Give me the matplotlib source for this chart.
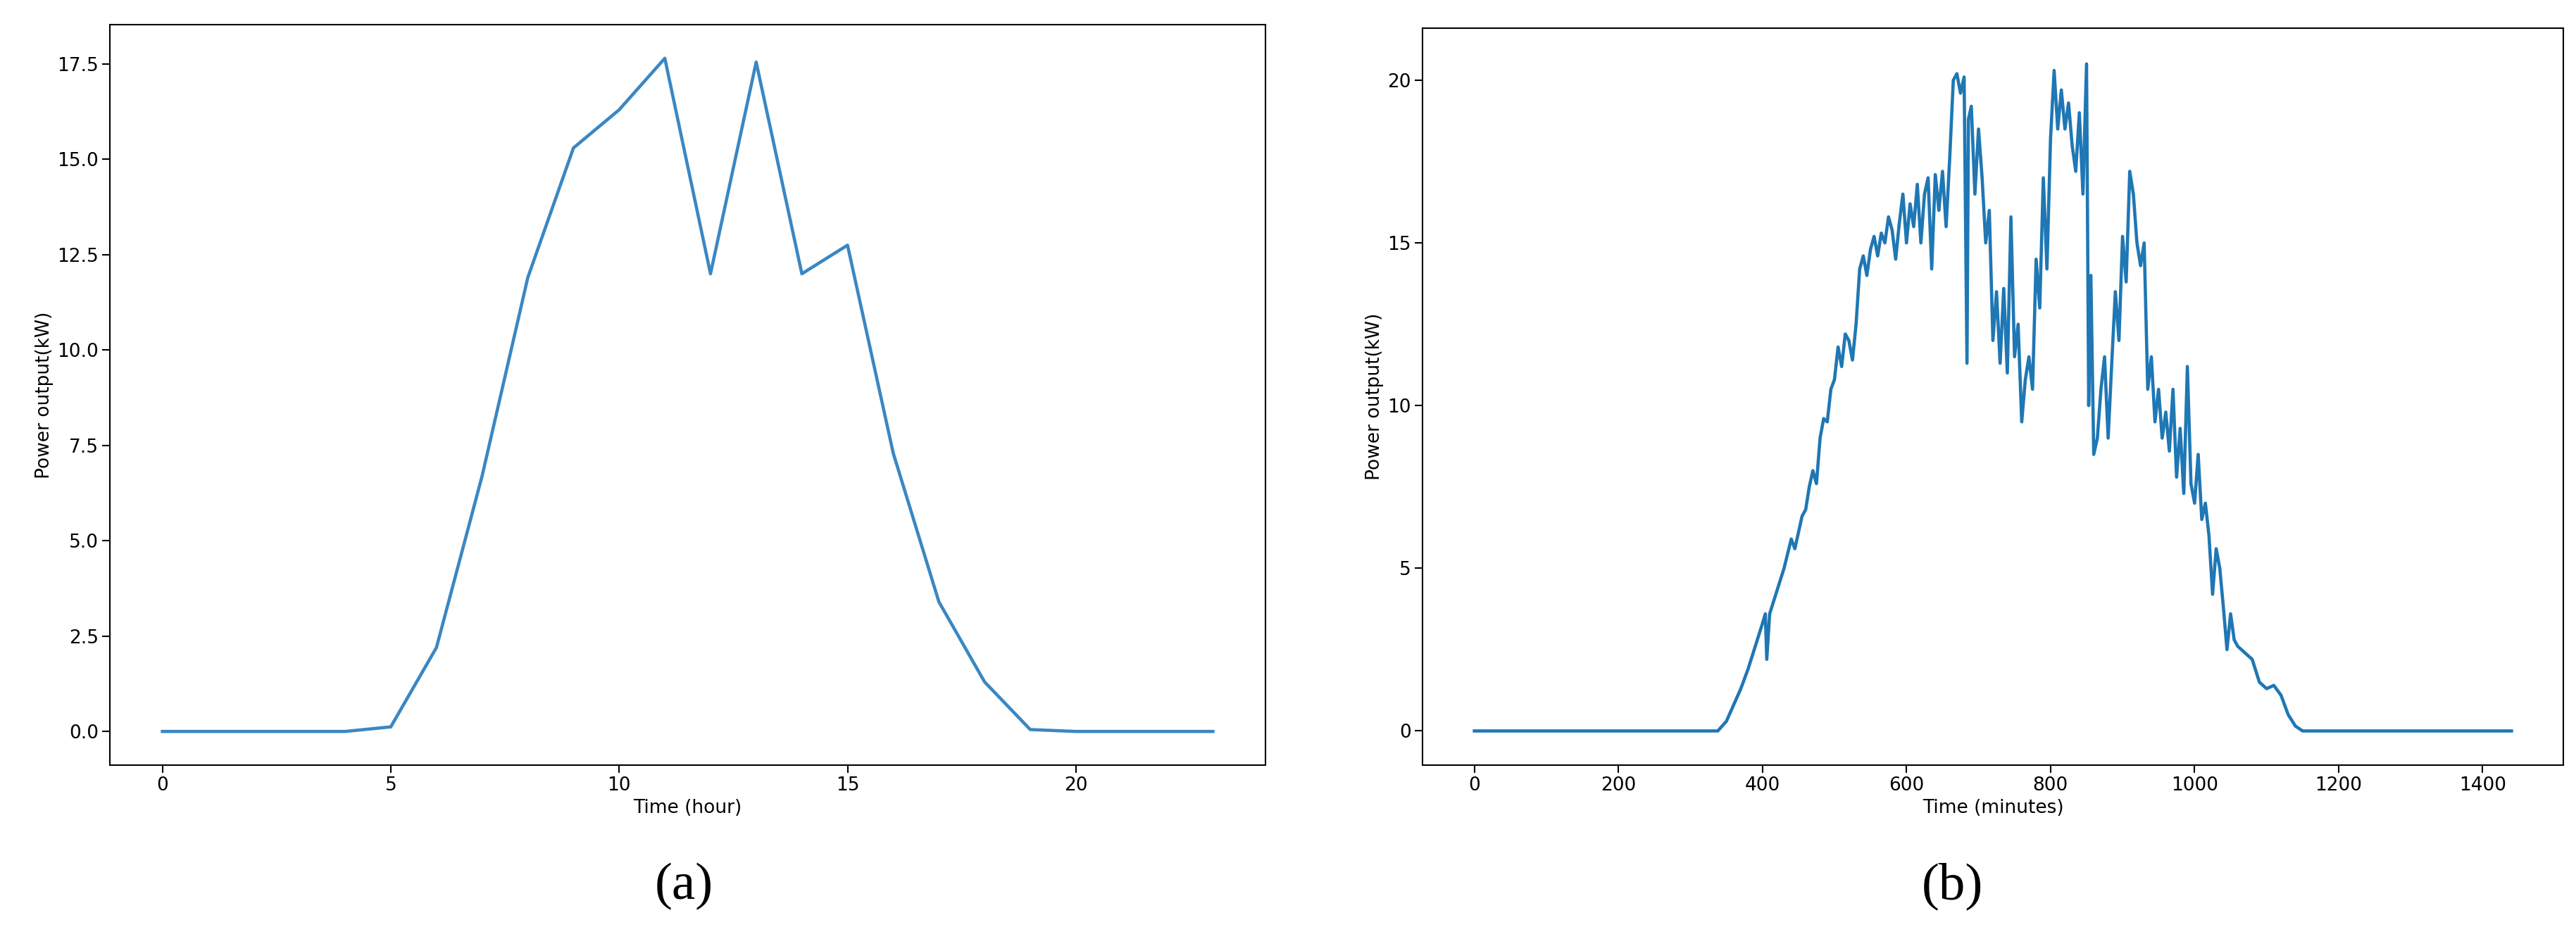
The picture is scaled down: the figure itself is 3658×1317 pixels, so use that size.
import matplotlib.pyplot as plt
import numpy as np

# hourly data (a)
hours = list(range(24))
power_hour = [0, 0, 0, 0, 0, 0.12, 2.2, 6.7, 11.9, 15.3, 16.3, 17.65,
              12.0, 17.55, 12.0, 12.75, 7.3, 3.4, 1.3, 0.05, 0, 0, 0, 0]

# minute data (b)
minutes = [0, 338, 350, 360, 370, 380, 390, 400, 404, 406, 410, 420, 430, 440, 445, 450,
           455, 460, 465, 470, 475, 480, 485, 490, 495, 500, 505, 510, 515, 520,
           525, 530, 535, 540, 545, 550, 555, 560, 565, 570, 575, 580, 585, 590,
           595, 600, 605, 610, 615, 620, 625, 630, 635, 640, 645, 650, 655, 660,
           665, 670, 675, 680, 684, 686, 690, 695, 700, 705, 710, 715, 720, 725,
           730, 735, 740, 745, 750, 755, 760, 765, 770, 775, 780, 785, 790, 795,
           800, 805, 810, 815, 820, 825, 830, 835, 840, 845, 850, 853, 856, 860,
           865, 870, 875, 880, 885, 890, 895, 900, 905, 910, 915, 920, 925, 930,
           935, 940, 945, 950, 955, 960, 965, 970, 975, 980, 985, 990, 995, 1000,
           1005, 1010, 1015, 1020, 1025, 1030, 1035, 1040, 1045, 1050, 1055, 1060,
           1070, 1080, 1090, 1100, 1110, 1120, 1130, 1140, 1150, 1160, 1440]
power_min = [0, 0, 0.3, 0.8, 1.3, 1.9, 2.6, 3.3, 3.6, 2.2, 3.6, 4.3, 5.0, 5.9, 5.6, 6.1,
             6.6, 6.8, 7.5, 8.0, 7.6, 9.0, 9.6, 9.5, 10.5, 10.8, 11.8, 11.2, 12.2, 12.0,
             11.4, 12.5, 14.2, 14.6, 14.0, 14.8, 15.2, 14.6, 15.3, 15.0, 15.8, 15.4, 14.5, 15.6,
             16.5, 15.0, 16.2, 15.5, 16.8, 15.0, 16.5, 17.0, 14.2, 17.1, 16.0, 17.2, 15.5, 17.6,
             20.0, 20.2, 19.6, 20.1, 11.3, 18.8, 19.2, 16.5, 18.5, 17.0, 15.0, 16.0, 12.0, 13.5,
             11.3, 13.6, 11.0, 15.8, 11.5, 12.5, 9.5, 10.8, 11.5, 10.5, 14.5, 13.0, 17.0, 14.2,
             18.2, 20.3, 18.5, 19.7, 18.5, 19.3, 18.0, 17.2, 19.0, 16.5, 20.5, 10.0, 14.0, 8.5,
             9.0, 10.5, 11.5, 9.0, 11.3, 13.5, 12.0, 15.2, 13.8, 17.2, 16.5, 15.0, 14.3, 15.0,
             10.5, 11.5, 9.5, 10.5, 9.0, 9.8, 8.6, 10.5, 7.8, 9.3, 7.3, 11.2, 7.6, 7.0,
             8.5, 6.5, 7.0, 6.0, 4.2, 5.6, 5.0, 3.8, 2.5, 3.6, 2.8, 2.6,
             2.4, 2.2, 1.5, 1.3, 1.4, 1.1, 0.5, 0.15, 0, 0, 0]

plt.rcParams['font.size'] = 19
fig = plt.figure(figsize=(36.58, 13.17), dpi=100)

ax1 = fig.add_axes([156 / 3658, 1 - 1087 / 1317, (1797 - 156) / 3658, (1087 - 35) / 1317])
ax1.plot(hours, power_hour, color='#3a87c3', lw=3.3)
ax1.set_xlabel('Time (hour)')
ax1.set_ylabel('Power output(kW)')
ax1.set_yticks(np.arange(0, 17.6, 2.5))

ax2 = fig.add_axes([2020 / 3658, 1 - 1087 / 1317, (3640 - 2020) / 3658, (1087 - 40) / 1317])
ax2.plot(minutes, power_min, color='#1f77b4', lw=3.3)
ax2.set_xlabel('Time (minutes)')
ax2.set_ylabel('Power output(kW)')
ax2.set_xticks(range(0, 1401, 200))
ax2.set_xlim(-72, 1512)
ax2.set_ylim(-1.05, 21.6)

for ax in (ax1, ax2):
    ax.tick_params(length=8, width=1.5)
    for s in ax.spines.values():
        s.set_linewidth(1.5)

fig.text(0.2655, 0.03, '(a)', ha='center', family='Liberation Serif', fontsize=54)
fig.text(0.758, 0.03, '(b)', ha='center', family='Liberation Serif', fontsize=54)

fig.savefig('out.png', dpi=100)
